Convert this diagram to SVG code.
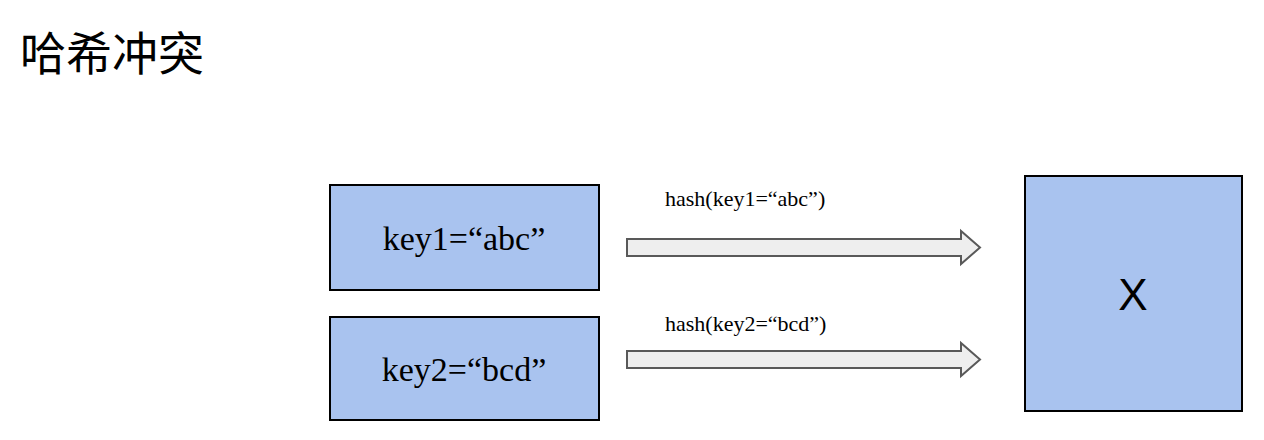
<svg xmlns="http://www.w3.org/2000/svg" width="1264" height="440" viewBox="0 0 1264 440">
<style>
.box{fill:#a9c3ef;stroke:#000;stroke-width:2}
.arr{fill:#eeeeee;stroke:#595959;stroke-width:2}
.t{font-family:"Liberation Serif",serif;fill:#000}
</style>
<rect width="1264" height="440" fill="#fff"/>
<text x="20" y="70" font-family="Noto Sans CJK SC, serif" font-size="46" fill="#000">哈希冲突</text>
<g id="key1"><rect class="box" x="330" y="185" width="269" height="105"/><text class="t" x="464" y="250" font-size="34" text-anchor="middle">key1=“abc”</text></g>
<g id="key2"><rect class="box" x="330" y="317" width="269" height="103"/><text class="t" x="464" y="381" font-size="34" text-anchor="middle">key2=“bcd”</text></g>
<g id="x"><rect class="box" x="1025" y="176" width="217" height="235"/><text x="1133" y="310" font-family="Liberation Sans, sans-serif" font-size="44" text-anchor="middle">X</text></g>
<g id="connectors">
<path class="arr" d="M627 239H961V231L980 247.5L961 264V256H627Z"/>
<path class="arr" d="M627 351H961V343L980 359.5L961 376V368H627Z"/>
<text class="t" x="665" y="206" font-size="22">hash(key1=“abc”)</text>
<text class="t" x="665" y="331" font-size="22">hash(key2=“bcd”)</text>
</g>
</svg>
